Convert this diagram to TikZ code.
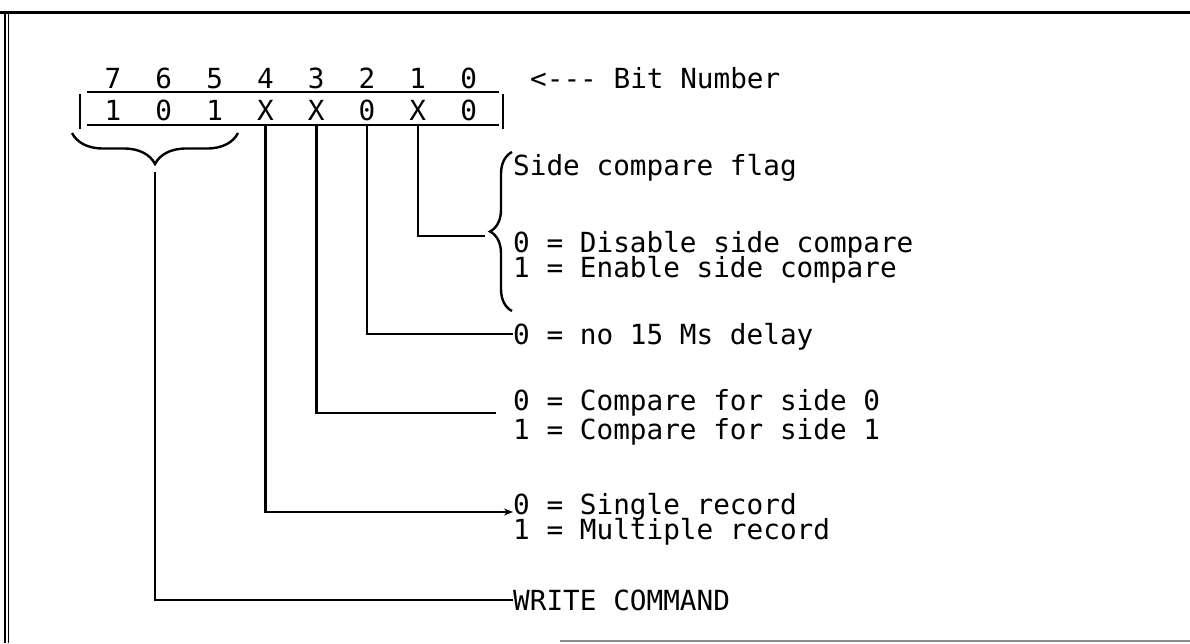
\documentclass[tikz,border=0pt]{standalone}
\usepackage{fontspec}
\setmonofont{DejaVu Sans Mono}
\usetikzlibrary{positioning,decorations.pathreplacing,arrows.meta}

\begin{document}
\begin{tikzpicture}[x=1pt,y=-1pt,
    txt/.style={font=\ttfamily\fontsize{27.7}{30}\selectfont,inner sep=0pt,
      anchor=base west,text height=20pt,text depth=0pt},
    bitnum/.style={txt,anchor=base},
    reg/.style={line width=2.4pt},
    bar/.style={line width=1.8pt},
    wire/.style={line width=2.6pt,line join=miter},
    curly/.style={decorate,decoration={brace,mirror,amplitude=#1},line width=2.4pt}
  ]
    \useasboundingbox (0,0) rectangle (1190,643);
    % frame
    \draw[line width=3pt] (0,12) -- (1190,12);
    \draw[line width=1.3pt] (5,12) -- (5,643) (8.5,12) -- (8.5,643);
    \draw[line width=1.2pt,black!45] (560,641) -- (1190,641);
    % register
    \foreach \b/\v [count=\i from 0] in {7/1,6/0,5/1,4/X,3/X,2/0,1/X,0/0} {
      \node[bitnum] (n\b) at (113+50.8*\i,88) {\b};
      \node[bitnum] (v\b) at (113+50.8*\i,120) {\v};
    }
    \coordinate (rb) at (0,125);
    \draw[reg] (87,92) -- (499,92) (87,125) -- (499,125);
    \draw[bar] (80,94) -- (80,129) (503,94) -- (503,129);
    \node[txt] (bitno) at (530,88) {<--- Bit Number};
    % descriptions
    \node[txt] (flag) at (513,175) {Side compare flag};
    \node[txt] (dis) at (513,252) {0 = Disable side compare};
    \node[txt] (ena) at (513,277) {1 = Enable side compare};
    \node[txt] (nodly) at (513,344) {0 = no 15 Ms delay};
    \node[txt] (cmp0) at (513,410) {0 = Compare for side 0};
    \node[txt] (cmp1) at (513,439) {1 = Compare for side 1};
    \node[txt] (sngl) at (513,514) {0 = Single record};
    \node[txt] (mult) at (513,539) {1 = Multiple record};
    \node[txt] (wrcmd) at (513,610) {WRITE COMMAND};
    % braces
    \draw[curly=31pt] (72,133) -- (238,133);
    \coordinate (b75) at (155,172);
    \draw[curly=22pt] (512,152) -- (512,311);
    \coordinate (tip1) at (485,236);
    % bit leads
    \draw[wire] (v1 |- rb) |- (tip1);
    \draw[wire] (v2 |- rb) |- (nodly.west);
    \draw[wire] (v3 |- rb) |- ([xshift=-17pt,yshift=-13pt]cmp0.west);
    \draw[wire,-{Stealth[length=9pt,width=7pt]}] (v4 |- rb) |- ([yshift=-8pt]sngl.west);
    \draw[wire] (b75) |- (wrcmd.west);
\end{tikzpicture}
\end{document}
